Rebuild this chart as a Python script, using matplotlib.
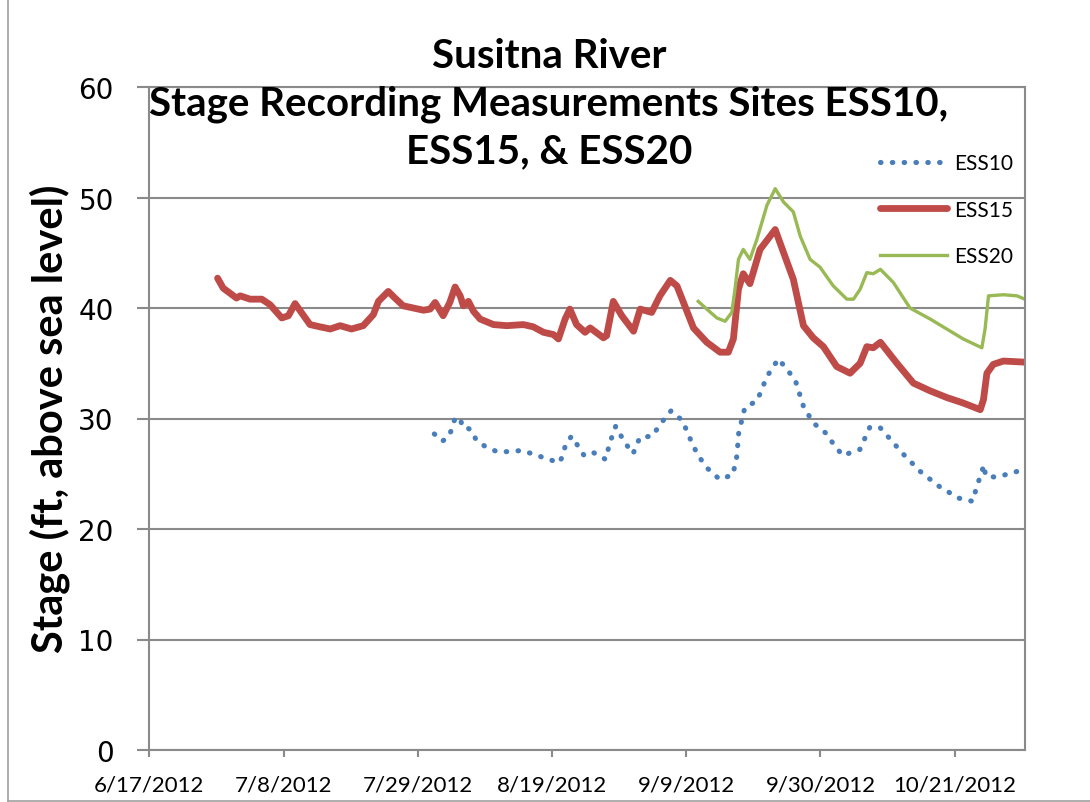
import matplotlib
matplotlib.use("Agg")
import matplotlib.pyplot as plt
import matplotlib.dates as mdates
from matplotlib.lines import Line2D
import pandas as pd

# === DATA ===
ess10_dates = [
    "2012-07-31 14:00", "2012-08-01 20:00", "2012-08-02 18:00", "2012-08-03 07:00",
    "2012-08-03 18:00", "2012-08-04 14:00", "2012-08-05 00:00", "2012-08-05 15:00",
    "2012-08-06 11:00", "2012-08-07 02:00", "2012-08-08 11:00", "2012-08-10 09:00",
    "2012-08-12 06:00", "2012-08-14 03:00", "2012-08-16 00:00", "2012-08-17 23:00",
    "2012-08-20 03:00", "2012-08-20 18:00", "2012-08-21 02:00", "2012-08-22 01:00",
    "2012-08-22 23:00", "2012-08-23 23:00", "2012-08-25 05:00", "2012-08-27 09:00",
    "2012-08-28 01:00", "2012-08-28 23:00", "2012-08-30 06:00", "2012-08-31 16:00",
    "2012-09-01 18:00", "2012-09-03 16:00", "2012-09-05 02:00", "2012-09-06 15:00",
    "2012-09-08 10:00", "2012-09-09 12:00", "2012-09-10 19:00", "2012-09-12 07:00",
    "2012-09-14 05:00", "2012-09-16 07:00", "2012-09-16 22:00", "2012-09-17 05:00",
    "2012-09-18 04:00", "2012-09-20 02:00", "2012-09-21 15:00", "2012-09-23 10:00",
    "2012-09-26 01:00", "2012-09-27 08:00", "2012-09-28 21:00", "2012-09-30 19:00",
    "2012-10-01 17:00", "2012-10-03 11:00", "2012-10-06 04:00", "2012-10-07 17:00",
    "2012-10-09 07:00", "2012-10-12 04:00", "2012-10-13 02:00", "2012-10-15 15:00",
    "2012-10-18 11:00", "2012-10-21 14:00", "2012-10-23 20:00", "2012-10-24 08:00",
    "2012-10-25 14:00", "2012-10-25 20:00", "2012-10-27 07:00", "2012-10-28 13:00",
    "2012-10-31 23:00",
]
ess10_stage = [
    28.6, 27.95, 28.3, 29.0, 29.9, 30.1, 29.2, 29.2, 28.9, 28.1, 27.5, 27.0,
    27.0, 27.1, 26.8, 26.4, 26.0, 26.7, 27.6, 28.4, 27.6, 26.7, 27.0, 26.3,
    27.8, 29.3, 27.95, 26.8, 28.3, 28.4, 29.6, 30.7, 29.8, 28.3, 26.7, 25.5,
    24.5, 24.9, 26.6, 28.7, 31.0, 31.6, 33.8, 35.4, 33.5, 31.1, 29.6, 28.7,
    27.95, 26.65, 27.2, 29.2, 29.2, 27.3, 26.7, 25.2, 23.9, 22.8, 22.5, 23.6,
    25.8, 24.8, 24.7, 24.85, 25.4,
]

ess15_dates = [
    "2012-06-27 16:00", "2012-06-28 13:00", "2012-06-30 15:00", "2012-07-01 05:00",
    "2012-07-02 18:00", "2012-07-04 14:00", "2012-07-05 21:00", "2012-07-07 17:00",
    "2012-07-08 18:00", "2012-07-09 19:00", "2012-07-12 03:00", "2012-07-13 16:00",
    "2012-07-15 07:00", "2012-07-16 20:00", "2012-07-18 15:00", "2012-07-20 11:00",
    "2012-07-22 01:00", "2012-07-22 20:00", "2012-07-24 09:00", "2012-07-25 10:00",
    "2012-07-26 17:00", "2012-07-28 07:00", "2012-07-29 21:00", "2012-07-30 22:00",
    "2012-07-31 17:00", "2012-08-01 23:00", "2012-08-03 00:00", "2012-08-03 20:00",
    "2012-08-04 15:00", "2012-08-05 03:00", "2012-08-05 22:00", "2012-08-06 17:00",
    "2012-08-07 18:00", "2012-08-09 20:00", "2012-08-11 22:00", "2012-08-14 12:00",
    "2012-08-16 01:00", "2012-08-17 16:00", "2012-08-19 05:00", "2012-08-20 00:00",
    "2012-08-21 01:00", "2012-08-21 19:00", "2012-08-22 20:00", "2012-08-24 04:00",
    "2012-08-24 23:00", "2012-08-27 01:00", "2012-08-27 13:00", "2012-08-28 14:00",
    "2012-08-29 22:00", "2012-08-31 18:00", "2012-09-01 19:00", "2012-09-03 14:00",
    "2012-09-04 21:00", "2012-09-06 12:00", "2012-09-07 13:00", "2012-09-10 03:00",
    "2012-09-12 05:00", "2012-09-14 07:00", "2012-09-15 14:00", "2012-09-16 09:00",
    "2012-09-17 04:00", "2012-09-17 22:00", "2012-09-18 23:00", "2012-09-20 13:00",
    "2012-09-22 22:00", "2012-09-23 16:00", "2012-09-25 18:00", "2012-09-27 08:00",
    "2012-09-28 21:00", "2012-09-30 11:00", "2012-10-02 13:00", "2012-10-04 15:00",
    "2012-10-06 05:00", "2012-10-07 06:00", "2012-10-08 06:00", "2012-10-09 09:00",
    "2012-10-11 23:00", "2012-10-14 13:00", "2012-10-17 04:00", "2012-10-19 18:00",
    "2012-10-22 08:00", "2012-10-25 00:00", "2012-10-25 12:00", "2012-10-26 01:00",
    "2012-10-27 01:00", "2012-10-28 15:00", "2012-10-31 23:00",
]
ess15_stage = [
    42.7, 41.8, 40.9, 41.1, 40.8, 40.8, 40.3, 39.1, 39.3, 40.4, 38.5, 38.3,
    38.1, 38.4, 38.1, 38.4, 39.4, 40.6, 41.5, 40.9, 40.2, 40.0, 39.8, 39.9,
    40.5, 39.3, 40.5, 41.9, 41.1, 40.2, 40.6, 39.7, 39.0, 38.5, 38.4, 38.5,
    38.3, 37.8, 37.6, 37.2, 39.0, 39.9, 38.5, 37.8, 38.2, 37.3, 37.5, 40.6,
    39.3, 37.9, 39.9, 39.6, 41.1, 42.5, 42.0, 38.2, 36.9, 36.0, 36.0, 37.2,
    41.7, 43.1, 42.2, 45.3, 47.1, 45.9, 42.6, 38.4, 37.3, 36.5, 34.7, 34.1,
    35.0, 36.5, 36.4, 36.9, 35.0, 33.2, 32.5, 31.9, 31.4, 30.8, 31.7, 34.1,
    34.9, 35.2, 35.1,
]

ess20_dates = [
    "2012-09-10 21:00", "2012-09-12 05:00", "2012-09-13 19:00", "2012-09-15 02:00",
    "2012-09-16 03:00", "2012-09-16 15:00", "2012-09-17 04:00", "2012-09-17 22:00",
    "2012-09-18 23:00", "2012-09-20 01:00", "2012-09-21 15:00", "2012-09-22 22:00",
    "2012-09-24 05:00", "2012-09-25 18:00", "2012-09-26 20:00", "2012-09-28 09:00",
    "2012-09-29 22:00", "2012-10-02 00:00", "2012-10-04 03:00", "2012-10-05 04:00",
    "2012-10-06 05:00", "2012-10-07 06:00", "2012-10-08 06:00", "2012-10-09 09:00",
    "2012-10-11 10:00", "2012-10-14 00:00", "2012-10-17 04:00", "2012-10-19 18:00",
    "2012-10-22 08:00", "2012-10-25 06:00", "2012-10-25 18:00", "2012-10-26 07:00",
    "2012-10-28 15:00", "2012-10-30 18:00", "2012-10-31 23:00",
]
ess20_stage = [
    40.6, 39.9, 39.1, 38.8, 39.6, 41.7, 44.4, 45.3, 44.4, 46.2, 49.3, 50.8,
    49.6, 48.7, 46.5, 44.4, 43.7, 42.0, 40.8, 40.8, 41.7, 43.2, 43.1, 43.5,
    42.3, 40.0, 39.0, 38.1, 37.2, 36.4, 38.1, 41.1, 41.2, 41.1, 40.8,
]

x_tick_dates = ["2012-06-17", "2012-07-08", "2012-07-29", "2012-08-19",
                "2012-09-09", "2012-09-30", "2012-10-21"]
x_tick_labels = ["6/17/2012", "7/8/2012", "7/29/2012", "8/19/2012",
                 "9/9/2012", "9/30/2012", "10/21/2012"]
y_ticks = [0, 10, 20, 30, 40, 50, 60]

# === STYLE ===
BLUE = "#4A7EBB"
RED = "#BE4B48"
GREEN = "#98B954"
GRID = "#8A8A8A"

# === PLOT ===
fig = plt.figure(figsize=(10.9, 8.03), dpi=100)
ax = fig.add_axes([149.4 / 1090, 1 - 751 / 803, 875.6 / 1090, 663 / 803])

ax.plot(pd.to_datetime(ess10_dates), ess10_stage, color=BLUE, lw=3.7,
        linestyle=(0, (0.1, 2.2)), dash_capstyle="round", label="ESS10")
ax.plot(pd.to_datetime(ess15_dates), ess15_stage, color=RED, lw=4.9,
        solid_capstyle="round", solid_joinstyle="round", label="ESS15")
ax.plot(pd.to_datetime(ess20_dates), ess20_stage, color=GREEN, lw=2.4,
        solid_joinstyle="round", label="ESS20")

ax.set_xlim(pd.Timestamp("2012-06-17"), pd.Timestamp("2012-11-01"))
ax.set_ylim(0, 60)
ax.set_xticks(mdates.date2num(pd.to_datetime(x_tick_dates)))
ax.set_xticklabels(x_tick_labels, fontfamily="Lato", fontsize=16)
ax.set_yticks(y_ticks)
ax.set_yticklabels([str(v) for v in y_ticks], fontfamily="DejaVu Sans", fontsize=20)

ax.yaxis.grid(True, color=GRID, lw=1.5)
ax.set_axisbelow(True)
for s in ax.spines.values():
    s.set_color(GRID)
    s.set_linewidth(1.5)
ax.tick_params(axis="y", length=8.6, width=1.5, color=GRID, pad=17)
ax.tick_params(axis="x", length=5, width=1.5, color=GRID, pad=13)

leg = ax.legend(loc="upper left", bbox_to_anchor=(880 / 1090, 1 - 154 / 803),
                bbox_transform=fig.transFigure, frameon=False,
                prop={"family": "Lato", "size": 15}, handlelength=3.2,
                handletextpad=0.35, labelspacing=1.28, borderpad=0,
                borderaxespad=0)

fig.text(549 / 1090, 1 - 104 / 803,
         "Susitna River\nStage Recording Measurements Sites ESS10,\nESS15, & ESS20",
         ha="center", va="center", fontfamily="Lato", fontweight="bold",
         fontsize=29, linespacing=1.34)
fig.text(50 / 1090, 1 - 419 / 803, "Stage (ft, above sea level)", rotation=90,
         ha="center", va="center", fontfamily="Lato", fontweight="bold", fontsize=30)

# chart-area border
fig.add_artist(Line2D([8 / 1090, 8 / 1090], [0.001, 1], color="#A0A0A0", lw=1.2))
fig.add_artist(Line2D([8 / 1090, 1], [1.5 / 803, 1.5 / 803], color="#A0A0A0", lw=1.2))

fig.savefig("out.png", dpi=100)
